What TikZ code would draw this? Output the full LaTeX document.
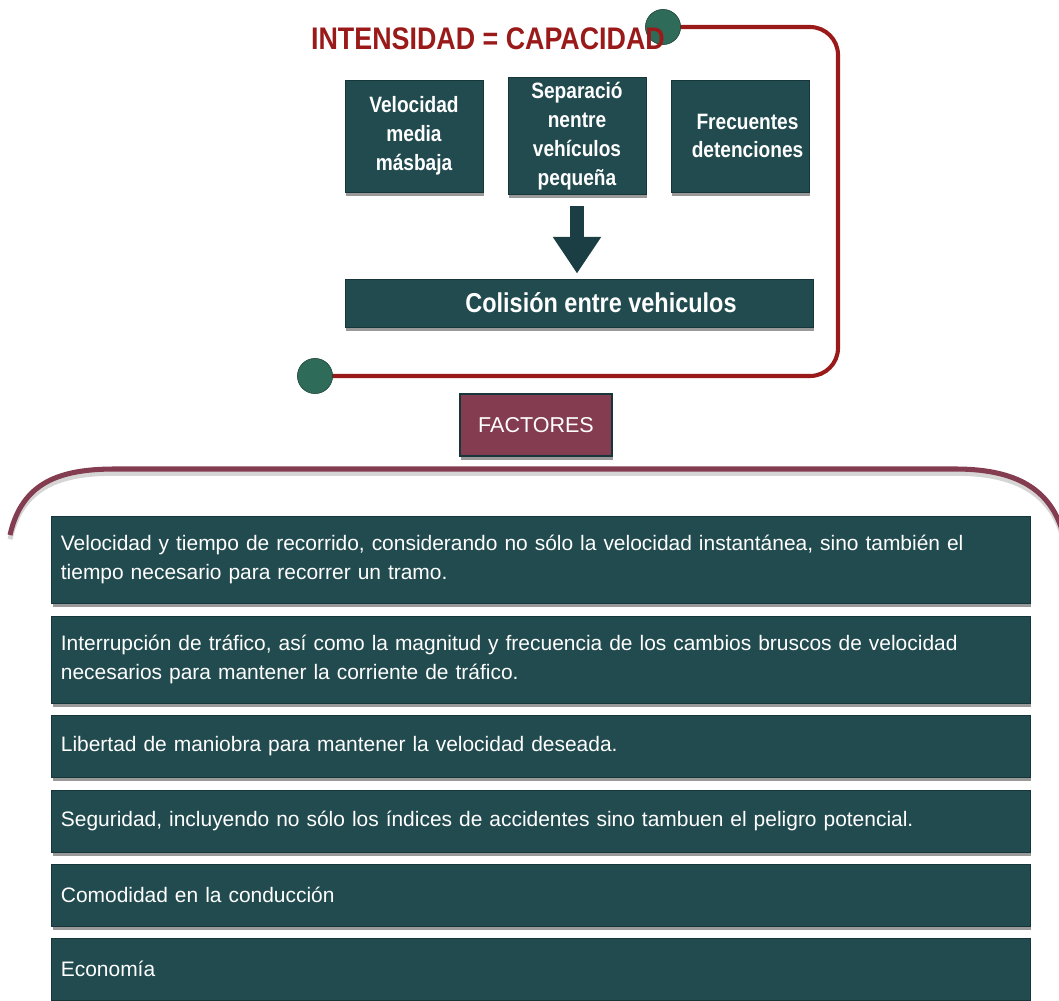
\documentclass[tikz,border=0pt]{standalone}
\usepackage{fontspec}
\setmainfont{Liberation Sans}
\newfontfamily\condfont[FakeStretch=0.86]{Liberation Sans}
\usepackage{tikz}
\usetikzlibrary{arrows.meta, shadows}
\definecolor{boxteal}{HTML}{224B4F}
\definecolor{boxedge}{HTML}{17363A}
\definecolor{arrowteal}{HTML}{1B3D44}
\definecolor{dotgreen}{HTML}{2F6B59}
\definecolor{capred}{HTML}{9A1A1A}
\definecolor{factmaroon}{HTML}{843D50}
\tikzset{
    boxshadow/.style={drop shadow={shadow xshift=0.6pt, shadow yshift=-2.8pt, opacity=0.4, fill=black}},
    topbox/.style={fill=boxteal, draw=boxedge, line width=0.6pt, minimum width=3.45cm, minimum height=2.8cm,
      text=white, align=center, font=\condfont\bfseries\fontsize{15.8}{20.5}\selectfont, boxshadow},
    colbox/.style={fill=boxteal, draw=boxedge, line width=0.6pt, minimum width=11.7cm, minimum height=1.2cm,
      text=white, font=\condfont\bfseries\fontsize{19.4}{22}\selectfont, boxshadow},
    factbox/.style={fill=factmaroon, draw=boxedge, line width=0.8pt, minimum width=3.8cm, minimum height=1.55cm,
      text=white, font=\fontsize{15.3}{18}\selectfont, boxshadow},
    listbox/.style={fill=boxteal, draw=boxedge, line width=0.6pt, minimum width=24.45cm, minimum height=#1,
      text=white, align=left, text width=24cm, inner xsep=0.2cm, font=\fontsize{14.9}{20}\selectfont, boxshadow},
    dot/.style={circle, fill=dotgreen, draw=dotgreen!60!black, line width=0.4pt, minimum size=0.88cm, inner sep=0pt},
    redline/.style={draw=capred, line width=2.9pt, rounded corners=0.7cm},
    bigarrow/.style={draw=arrowteal, line width=0.34cm, -{Triangle[length=0.92cm, width=1.15cm]}},
    bracepath/.style={draw=factmaroon, line width=3.6pt}
}
\begin{document}
\begin{tikzpicture}[x=0.025cm, y=-0.025cm]
    \useasboundingbox (0,0) rectangle (1059,1000);
    % capacity loop
    \coordinate (capstart) at (663,27);
    \coordinate (capend) at (315,376);
    \draw [redline] (capstart) -- (838,27) -- (838,376) -- (capend);
    \node [dot] (topdot) at (capstart) {};
    \node [dot] (botdot) at (capend) {};
    \node [anchor=base, text=capred, font=\condfont\bfseries\fontsize{22.2}{24}\selectfont] (title) at (488,49) {INTENSIDAD = CAPACIDAD};
    % causes
    \node [topbox] (velmedia) at (414,136) {Velocidad\\media\\másbaja};
    \node [topbox] (separacion) at (577,136) {Separació\\nentre\\vehículos\\pequeña};
    \node [topbox] (detenciones) at (740.5,136) {\hspace*{0.35cm}Frecuentes\\\hspace*{0.35cm}detenciones};
    \node [colbox] (colision) at (579,303) {\hspace*{1.1cm}Colisión entre vehiculos};
    \draw [bigarrow, shorten <=11*0.025cm, shorten >=5*0.025cm] (separacion.south) -- (separacion.south |- colision.north);
    % factores
    \node [factbox] (factores) at (536,425) {FACTORES};
    \draw [draw=gray!55, opacity=0.6, line width=3.6pt, yshift=-3pt] (10,535) .. controls (22,482) and (60,469) .. (115,469) -- (955,469) .. controls (1010,469) and (1048,485) .. (1062,530);
    \draw [bracepath] (10,535) .. controls (22,482) and (60,469) .. (115,469) -- (955,469) .. controls (1010,469) and (1048,485) .. (1062,530);
    \node [listbox=2.175cm] (fac1) at (541,559.5) {Velocidad y tiempo de recorrido, considerando no sólo la velocidad instantánea, sino también el\\tiempo necesario para recorrer un tramo.};
    \node [listbox=2.175cm] (fac2) at (541,659.5) {Interrupción de tráfico, así como la magnitud y frecuencia de los cambios bruscos de velocidad\\necesarios para mantener la corriente de tráfico.};
    \node [listbox=1.55cm] (fac3) at (541,746) {Libertad de maniobra para mantener la velocidad deseada.};
    \node [listbox=1.55cm] (fac4) at (541,821) {Seguridad, incluyendo no sólo los índices de accidentes sino tambuen el peligro potencial.};
    \node [listbox=1.55cm] (fac5) at (541,895) {Comodidad en la conducción};
    \node [listbox=1.55cm] (fac6) at (541,969) {Economía};
\end{tikzpicture}
\end{document}
